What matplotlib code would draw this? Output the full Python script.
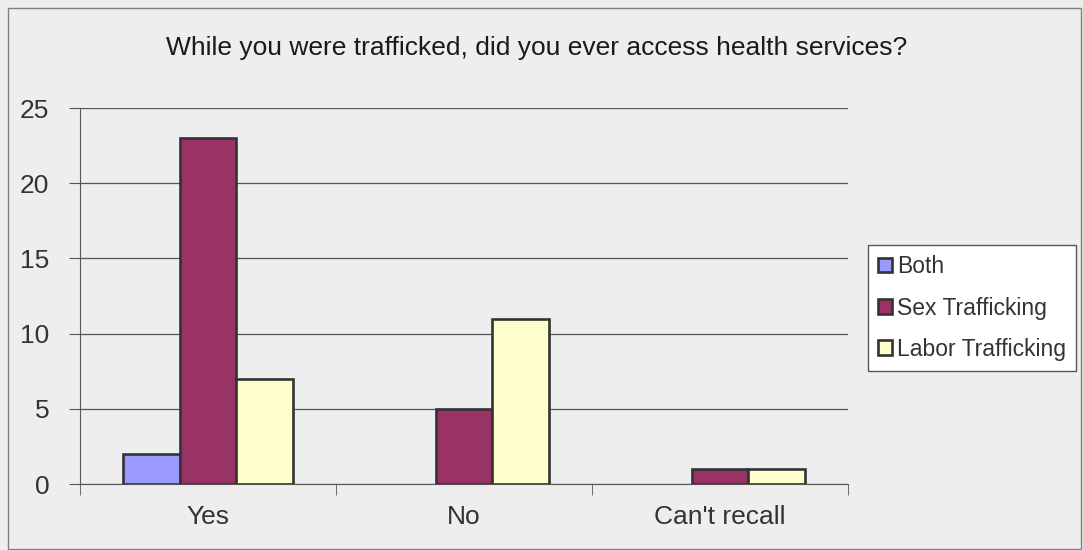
import numpy as np
import matplotlib
matplotlib.use("Agg")
import matplotlib.pyplot as plt
from matplotlib.patches import Rectangle

# ====== DATA =======
categories = ["Yes", "No", "Can't recall"]
series_names = ["Both", "Sex Trafficking", "Labor Trafficking"]
both = [2, 0, 0]
sex_trafficking = [23, 5, 1]
labor_trafficking = [7, 11, 1]
colors = ["#9999FF", "#993366", "#FFFFCC"]

plt.rcParams['font.family'] = ['Liberation Sans', 'DejaVu Sans']

W, H = 1083, 550
fig = plt.figure(figsize=(W / 100, H / 100), dpi=100, facecolor="#EEEEEE")
fig.patches.append(Rectangle((8 / W, 1 / H), (W - 10) / W, (H - 9) / H,
                             transform=fig.transFigure, fill=False,
                             edgecolor="#808080", linewidth=1.0))

ax = fig.add_axes([80 / W, 1 - 484 / H, (848 - 80) / W, (484 - 108) / H])
ax.set_facecolor("#EEEEEE")

x = np.arange(len(categories))
w = 0.222
for i, (vals, name) in enumerate(zip([both, sex_trafficking, labor_trafficking], series_names)):
    bars = ax.bar(x + (i - 1) * w, vals, width=w, color=colors[i], edgecolor="#333333",
                  linewidth=1.9, label=name, zorder=3)
    # Excel doesn't draw zero-height bars
    for b, v in zip(bars, vals):
        if v == 0:
            b.set_visible(False)

ax.set_xlim(-0.5, len(categories) - 0.5)
ax.set_ylim(0, 25)
ax.set_yticks(range(0, 26, 5))
ax.yaxis.grid(True, color="#555555", linewidth=0.9, zorder=0)
ax.set_axisbelow(True)

ax.set_xticks(x)
ax.set_xticklabels(categories)
ax.set_xticks(np.arange(-0.5, len(categories), 1), minor=True)
ax.tick_params(axis="x", which="major", length=0, pad=15, labelsize=19, colors="#333333")
ax.tick_params(axis="x", which="minor", length=8, direction="out", color="#555555")
ax.tick_params(axis="y", length=8, direction="out", color="#555555", labelsize=19,
               pad=14, labelcolor="#333333")

for s in ["top", "right"]:
    ax.spines[s].set_visible(False)
ax.spines["left"].set_color("#555555")
ax.spines["bottom"].set_color("#555555")

fig.text(537 / W, 1 - 48 / H, "While you were trafficked, did you ever access health services?",
         ha="center", va="center", fontsize=19, color="#1a1a1a")

leg = ax.legend(loc="center left", bbox_to_anchor=(868 / W, 1 - 308 / H),
                bbox_transform=fig.transFigure, fontsize=16.5, frameon=True,
                fancybox=False, edgecolor="#555555", facecolor="white",
                handlelength=0.6, handleheight=0.6, handletextpad=0.2,
                labelspacing=0.8, borderpad=0.45, borderaxespad=0, labelcolor="#333333")
leg.get_frame().set_linewidth(1.0)
leg.get_frame().set_alpha(1)

fig.savefig("out.png", dpi=100, facecolor=fig.get_facecolor())
